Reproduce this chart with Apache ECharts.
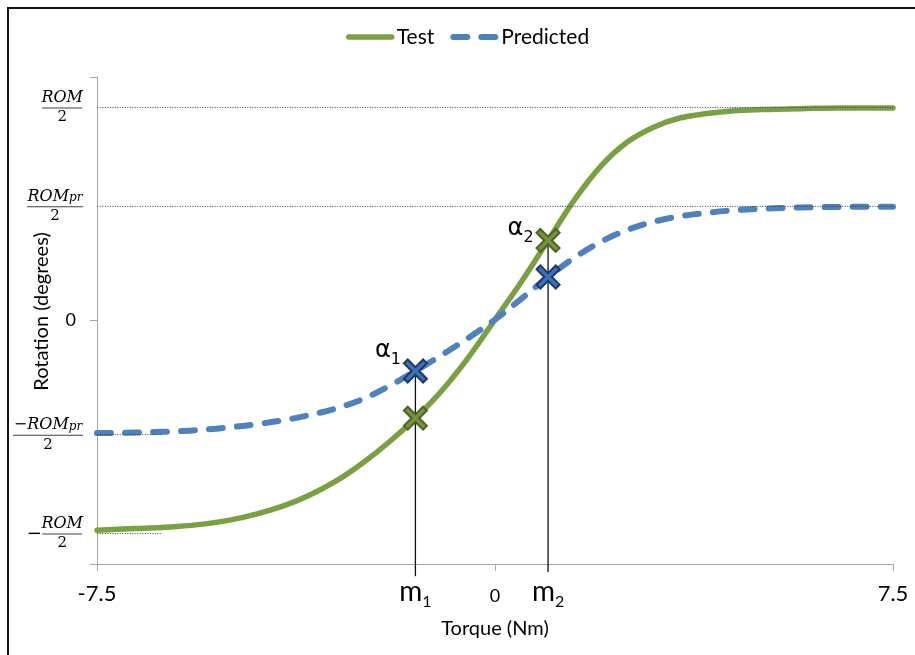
<!DOCTYPE html>
<html>
<head>
<meta charset="utf-8">
<script src="https://cdn.jsdelivr.net/npm/echarts@6/dist/echarts.min.js"></script>
<style>
  html, body { margin: 0; padding: 0; background: #fff; }
  #frame { position: absolute; left: 7px; top: 7px; width: 908px; height: 648px;
           border-left: 2px solid #141414; border-top: 2px solid #141414; }
  #chart { position: absolute; left: 0; top: 0; width: 915px; height: 655px; }
</style>
</head>
<body>
<div id="frame"></div>
<div id="chart"></div>
<script>
// Torque sample points (Nm) shared by both curves
const torque = [-7.5, -7, -6.5, -6, -5.5, -5, -4.5, -4, -3.5, -3, -2.5, -2, -1.5, -1, -0.5,
                0, 0.5, 1, 1.5, 2, 2.5, 3, 3.5, 4, 4.5, 5, 5.5, 6, 6.5, 7, 7.5];
// Measured rotation (test)
const testRotation = [-68.9, -68.5, -68.2, -67.7, -66.9, -65.6, -63.6, -61.0, -57.4, -52.8, -46.9,
                      -40.0, -32.1, -23.0, -12.1, 0.3, 12.8, 26.3, 39.7, 50.8, 58.7, 63.6, 66.6,
                      68.0, 68.9, 69.3, 69.5, 69.7, 69.8, 69.8, 69.8];
// Model rotation (predicted)
const predictedRotation = [-37.0, -36.9, -36.7, -36.4, -35.9, -35.1, -34.1, -32.8, -31.1, -28.9, -25.9,
                           -21.6, -16.6, -11.3, -5.7, 0.3, 7.2, 14.3, 20.7, 25.9, 29.8, 32.5, 34.3,
                           35.4, 36.2, 36.7, 37.0, 37.2, 37.3, 37.4, 37.4];

// Reference torques m1, m2 and the rotations read at them
const markTorque = [-1.5, 1.0];
const markTest = [-32.1, 26.3];
const markPredicted = [-16.6, 14.3];
const markNames = ['m1', 'm2'];
const alphaNames = ['α1', 'α2'];

// Half ranges of motion
const ROM_HALF = 70;
const ROMPR_HALF = 37.5;
const yLabelValues = [-ROM_HALF, -ROMPR_HALF, 0, ROMPR_HALF, ROM_HALF];
const yLabelNames = ['-ROM/2', '-ROMpr/2', '0', 'ROMpr/2', 'ROM/2'];

// Horizontal dotted guides: level and right end (torque)
const guideLevels = [ROM_HALF, ROMPR_HALF, -ROMPR_HALF, -ROM_HALF];
const guideEnds = [7.5, 7.5, -6.3, -6.3];
const GUIDE_START = -7.73;
// Lower end of the drop lines at m1, m2
const stemBottoms = [-84, -82.6];

const xLabelValues = [-7.5, markTorque[0], 0, markTorque[1], 7.5];
const xLabelNames = ['-7.5', markNames[0], '0', markNames[1], '7.5'];

const GREEN = '#7aa044';
const BLUE = '#4f81bd';
const SERIF = 'DejaVu Serif';

function findIndex(list, v) {
  for (let k = 0; k < list.length; k++) if (Math.abs(list[k] - v) < 1e-6) return k;
  return -1;
}

function xLabel(v) {
  const k = findIndex(xLabelValues, v);
  if (k < 0) return '';
  const t = xLabelNames[k];
  if (t[0] === 'm') return '{m|m}{s|' + t.slice(1) + '}';
  if (t === '0') return '{zero|0}';
  return '{big|' + t + '}';
}

function yLabel(v) {
  const k = findIndex(yLabelValues, v);
  if (k < 0) return '';
  switch (yLabelNames[k]) {
    case '0': return '{zero|0}';
    case 'ROM/2': return '{num|ROM}\n{bar40|}\n{den|2}';
    case 'ROMpr/2': return '{num|ROM}{sub|pr}\n{bar56|}\n{den|2}';
    case '-ROMpr/2': return '{num|\u2212ROM}{sub|pr}\n{bar70|}\n{den|2}';
    case '-ROM/2': return '{sp|}{num|ROM}\n{mbar|\u2212}{bar40|}\n{sp|}{den|2}';
  }
  return '';
}

const barStyle = (w) => ({ width: w, height: 1, lineHeight: 3, backgroundColor: '#404040', align: 'center' });

const series = [
  {
    name: 'Test', type: 'line', z: 2,
    data: torque.map((x, i) => [x, testRotation[i]]),
    smooth: 0.35, symbol: 'none', showSymbol: false,
    lineStyle: { color: GREEN, width: 5.5, cap: 'round' },
    itemStyle: { color: GREEN }
  },
  {
    name: 'Predicted', type: 'line', z: 3,
    data: torque.map((x, i) => [x, predictedRotation[i]]),
    smooth: 0.35, symbol: 'none', showSymbol: false,
    lineStyle: { color: BLUE, width: 6, type: [14, 14], cap: 'round' },
    itemStyle: { color: BLUE }
  }
];

// dotted guide lines at the ROM levels
guideLevels.forEach((lvl, i) => {
  series.push({
    type: 'line', z: 4, silent: true, clip: false, symbol: 'none',
    data: [[GUIDE_START, lvl], [guideEnds[i], lvl]],
    lineStyle: { color: '#3a3a3a', width: 1, type: [1, 1.5] }
  });
});

// drop lines from the upper marker at each reference torque
markTorque.forEach((m, i) => {
  series.push({
    type: 'line', z: 5, silent: true, clip: false, symbol: 'none',
    data: [[m, Math.max(markTest[i], markPredicted[i])], [m, stemBottoms[i]]],
    lineStyle: { color: '#111', width: 1.3 }
  });
});

const CROSS = 'path://M0,4 L4,0 L12,8 L20,0 L24,4 L16,12 L24,20 L20,24 L12,16 L4,24 L0,20 L8,12 Z';
const alphaRich = {
  a: { fontFamily: 'DejaVu Sans', fontSize: 24, lineHeight: 24, verticalAlign: 'top', color: '#000' },
  s: { fontFamily: 'DejaVu Sans', fontSize: 16, lineHeight: 16, verticalAlign: 'top', padding: [13, 0, 0, 0], color: '#000' }
};
const alphaOffsets = [[0, -20], [0, -12]];

function markerData(values, other) {
  return markTorque.map((m, i) => {
    const item = { value: [m, values[i]] };
    if (values[i] >= other[i]) {
      const name = alphaNames[i];
      item.label = {
        show: true, position: 'left', distance: 2, offset: alphaOffsets[i],
        formatter: '{a|' + name[0] + '}{s|' + name.slice(1) + '}',
        rich: alphaRich
      };
    }
    return item;
  });
}

series.push({
  type: 'scatter', z: 6, symbol: CROSS, symbolSize: 23,
  itemStyle: { color: '#76923c', borderColor: '#4f6228', borderWidth: 2, opacity: 1 },
  data: markerData(markTest, markPredicted)
});
series.push({
  type: 'scatter', z: 7, symbol: CROSS, symbolSize: 23,
  itemStyle: { color: '#3e70b8', borderColor: '#1c3a66', borderWidth: 2, opacity: 1 },
  data: markerData(markPredicted, markTest)
});

const option = {
  animation: false,
  textStyle: { fontFamily: 'Lato' },
  legend: {
    data: [
      { name: 'Test', lineStyle: { width: 5.5, cap: 'round' } },
      { name: 'Predicted', lineStyle: { width: 6, type: [14, 14], cap: 'round' } }
    ],
    left: 341, top: 20,
    itemWidth: 43, itemHeight: 24, itemGap: 16,
    itemStyle: { color: 'rgba(0,0,0,0)', borderColor: 'rgba(0,0,0,0)', borderWidth: 0, opacity: 0 },
    textStyle: { fontFamily: 'Lato', fontSize: 21, color: '#000', lineHeight: 24 }
  },
  grid: { left: 97, right: 22, top: 77, bottom: 91, containLabel: false, outerBoundsMode: 'none' },
  xAxis: {
    type: 'value', min: -7.5, max: 7.5, interval: 7.5,
    axisLine: { onZero: false, lineStyle: { color: '#a6a6a6', width: 1 } },
    axisTick: { show: true, length: 7, customValues: [-7.5, 0, 7.5], lineStyle: { color: '#a6a6a6' } },
    splitLine: { show: false },
    axisLabel: {
      customValues: xLabelValues, margin: 14, color: '#000',
      formatter: xLabel,
      rich: {
        big: { fontFamily: 'Lato', fontSize: 22, lineHeight: 22, verticalAlign: 'top', padding: [5, 0, 0, 0], color: '#000' },
        zero: { fontFamily: 'Lato', fontSize: 18, lineHeight: 18, verticalAlign: 'top', padding: [9, 0, 0, 0], color: '#000' },
        m: { fontFamily: 'Lato', fontSize: 28, lineHeight: 28, verticalAlign: 'top', color: '#000' },
        s: { fontFamily: 'Lato', fontSize: 16, lineHeight: 16, verticalAlign: 'top', padding: [16, 0, 0, 0], color: '#000' }
      }
    },
    name: 'Torque (Nm)', nameLocation: 'middle', nameGap: 55, nameMoveOverlap: false,
    nameTextStyle: { fontFamily: 'Lato', fontSize: 20, color: '#000' }
  },
  yAxis: {
    type: 'value', min: -80, max: 80, interval: 80,
    axisLine: { show: true, onZero: false, lineStyle: { color: '#a6a6a6', width: 1 } },
    axisTick: { show: true, length: 7, customValues: [-80, 0, 80], lineStyle: { color: '#a6a6a6' } },
    splitLine: { show: false },
    axisLabel: {
      customValues: yLabelValues, margin: 14, color: '#000',
      formatter: yLabel,
      rich: {
        zero: { fontFamily: 'Lato', fontSize: 18, padding: [0, 7, 0, 0], color: '#000' },
        num: { fontFamily: SERIF, fontStyle: 'italic', fontSize: 16, lineHeight: 17, align: 'center', color: '#000' },
        sub: { fontFamily: SERIF, fontStyle: 'italic', fontSize: 12, lineHeight: 13, verticalAlign: 'top', padding: [4, 0, 0, 0], align: 'center', color: '#000' },
        den: { fontFamily: SERIF, fontSize: 15, lineHeight: 16, align: 'center', color: '#000' },
        sp: { width: 16, align: 'center' },
        mbar: { fontFamily: SERIF, fontSize: 18, lineHeight: 3, width: 16, align: 'center', color: '#000' },
        bar40: barStyle(40),
        bar56: barStyle(56),
        bar70: barStyle(70)
      }
    },
    name: 'Rotation (degrees)', nameLocation: 'middle', nameGap: 45, nameRotate: 90, nameMoveOverlap: false,
    nameTextStyle: { fontFamily: 'Lato', fontSize: 20, color: '#000', padding: [0, 0, 0, 18] }
  },
  series: series
};

const chart = echarts.init(document.getElementById('chart'), null, { renderer: 'canvas' });
chart.setOption(option);
</script>
</body>
</html>
